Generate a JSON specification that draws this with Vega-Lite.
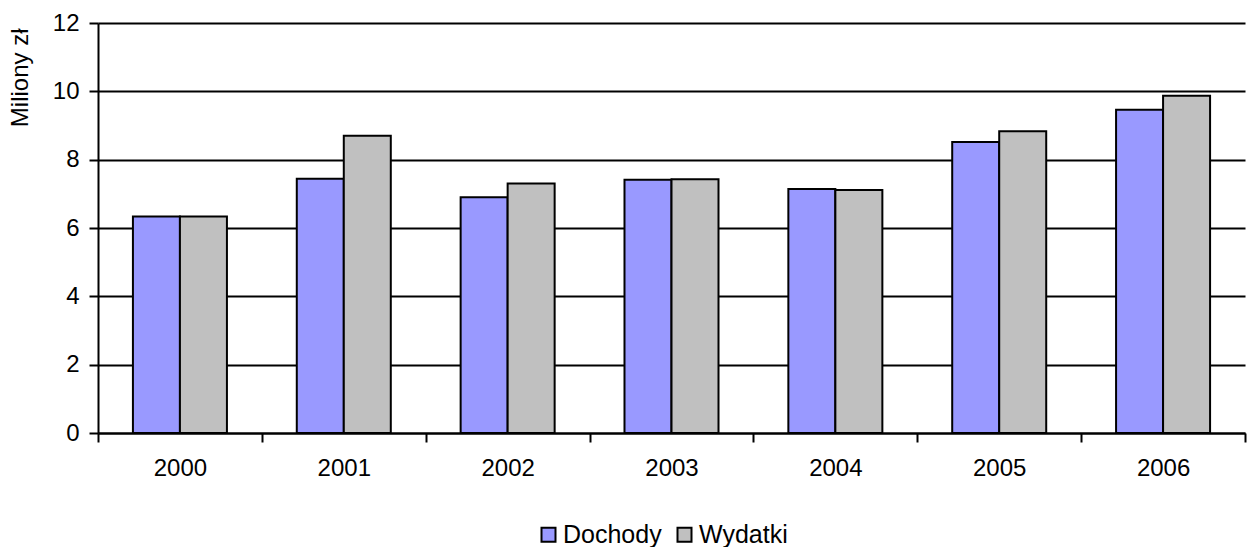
{
  "$schema": "https://vega.github.io/schema/vega-lite/v6.json",
  "autosize": {"type": "none"},
  "padding": {"left": 98, "top": 23, "right": 5, "bottom": 114},
  "width": 1147,
  "height": 410,
  "background": "white",
  "config": {
    "font": "Liberation Sans",
    "view": {"stroke": null},
    "axis": {
      "domainColor": "black",
      "domainWidth": 2,
      "tickColor": "black",
      "tickWidth": 2,
      "tickSize": 9,
      "labelColor": "black",
      "labelFont": "Liberation Sans",
      "labelFontSize": 24,
      "titleFont": "Liberation Sans",
      "titleFontSize": 24,
      "titleFontWeight": "normal",
      "titleColor": "black"
    },
    "legend": {
      "labelFont": "Liberation Sans",
      "labelFontSize": 25,
      "labelColor": "black"
    }
  },
  "data": {
    "values": [
      {"rok": "2000", "seria": "Dochody", "wartosc": 6.34},
      {"rok": "2000", "seria": "Wydatki", "wartosc": 6.34},
      {"rok": "2001", "seria": "Dochody", "wartosc": 7.44},
      {"rok": "2001", "seria": "Wydatki", "wartosc": 8.70},
      {"rok": "2002", "seria": "Dochody", "wartosc": 6.90},
      {"rok": "2002", "seria": "Wydatki", "wartosc": 7.30},
      {"rok": "2003", "seria": "Dochody", "wartosc": 7.41},
      {"rok": "2003", "seria": "Wydatki", "wartosc": 7.43},
      {"rok": "2004", "seria": "Dochody", "wartosc": 7.14},
      {"rok": "2004", "seria": "Wydatki", "wartosc": 7.11},
      {"rok": "2005", "seria": "Dochody", "wartosc": 8.52},
      {"rok": "2005", "seria": "Wydatki", "wartosc": 8.83},
      {"rok": "2006", "seria": "Dochody", "wartosc": 9.46},
      {"rok": "2006", "seria": "Wydatki", "wartosc": 9.87}
    ]
  },
  "mark": {"type": "bar", "stroke": "black", "strokeWidth": 2},
  "encoding": {
    "x": {
      "field": "rok",
      "type": "nominal",
      "scale": {"paddingInner": 0, "paddingOuter": 0},
      "axis": {
        "title": null,
        "labelAngle": 0,
        "tickBand": "extent",
        "labelPadding": 14,
        "grid": false
      }
    },
    "xOffset": {
      "field": "seria",
      "type": "nominal",
      "scale": {"paddingInner": 0, "paddingOuter": 0.743}
    },
    "y": {
      "field": "wartosc",
      "type": "quantitative",
      "scale": {"domain": [0, 12], "nice": false},
      "axis": {
        "title": "Miliony zł",
        "titleAnchor": "end",
        "titlePadding": 20,
        "titleY": 5,
        "values": [0, 2, 4, 6, 8, 10, 12],
        "grid": true,
        "gridColor": "black",
        "gridWidth": 2,
        "gridOpacity": 1,
        "labelPadding": 10
      }
    },
    "color": {
      "field": "seria",
      "type": "nominal",
      "scale": {"domain": ["Dochody", "Wydatki"], "range": ["#9999FF", "#C0C0C0"]},
      "legend": {
        "title": null,
        "orient": "none",
        "legendX": 438,
        "legendY": 499,
        "direction": "horizontal",
        "symbolType": "square",
        "symbolSize": 196,
        "symbolStrokeColor": "black",
        "symbolStrokeWidth": 2,
        "symbolOpacity": 1,
        "columnPadding": 10,
        "labelOffset": 2
      }
    }
  }
}
